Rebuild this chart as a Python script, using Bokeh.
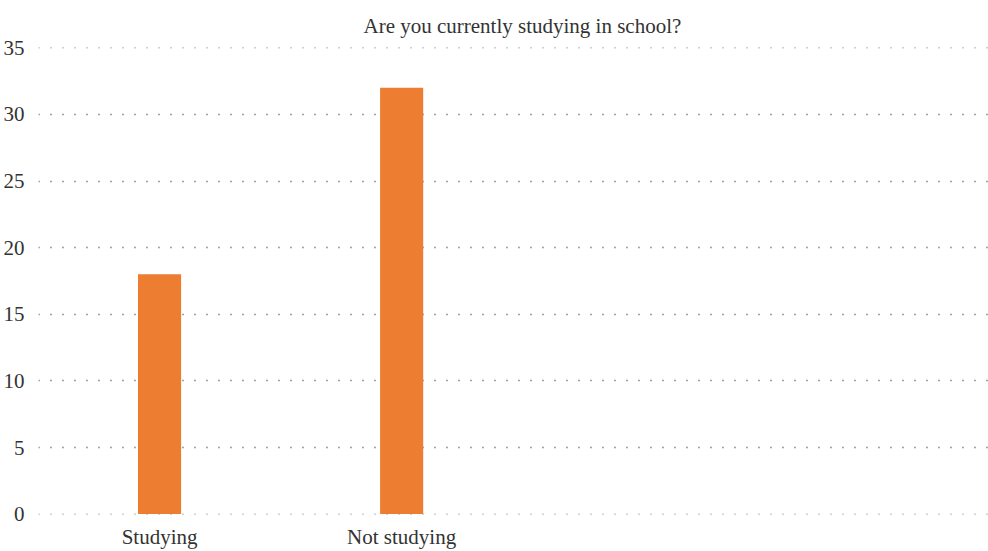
from bokeh.plotting import figure
from bokeh.models import Range1d, FixedTicker, ColumnDataSource
from bokeh.embed import file_html
from bokeh.resources import INLINE

# Data
categories = ["Studying", "Not studying"]
counts = [18, 32]
y_ticks = [0, 5, 10, 15, 20, 25, 30, 35]
title_text = "Are you currently studying in school?"

positions = [i + 0.5 for i in range(len(categories))]
source = ColumnDataSource(data=dict(x=positions, top=counts, label=categories))

FONT = "Liberation Serif"

p = figure(width=988, height=551, output_backend="svg", toolbar_location=None,
           x_range=Range1d(0, 3.924), y_range=Range1d(-0.03, 35.03),
           min_border_left=38, min_border_right=0, min_border_top=47, min_border_bottom=30)

p.vbar(x="x", top="top", bottom=0, width=0.178, source=source, color="#ED7D31", line_color=None)

p.title.text = title_text
p.title.align = "left"
p.title.offset = 325
p.title.text_font = FONT
p.title.text_font_size = "21px"
p.title.text_font_style = "normal"
p.title.text_color = "#333333"
p.title.standoff = 20

p.outline_line_color = None
p.xgrid.grid_line_color = None
p.ygrid.grid_line_color = "#444444"
p.ygrid.grid_line_dash = "1 11"
p.ygrid.grid_line_width = 1.5

p.yaxis.ticker = FixedTicker(ticks=y_ticks)
p.xaxis.ticker = FixedTicker(ticks=positions)
p.xaxis.major_label_overrides = {pos: lab for pos, lab in zip(positions, categories)}

for ax in (p.xaxis, p.yaxis):
    ax.axis_line_color = None
    ax.major_tick_line_color = None
    ax.minor_tick_line_color = None
    ax.major_label_text_font = FONT
    ax.major_label_text_font_size = "21px"
    ax.major_label_text_color = "#333333"

p.yaxis.major_label_standoff = 8
p.xaxis.major_label_standoff = 4

open("out.html", "w").write(file_html(p, INLINE))
